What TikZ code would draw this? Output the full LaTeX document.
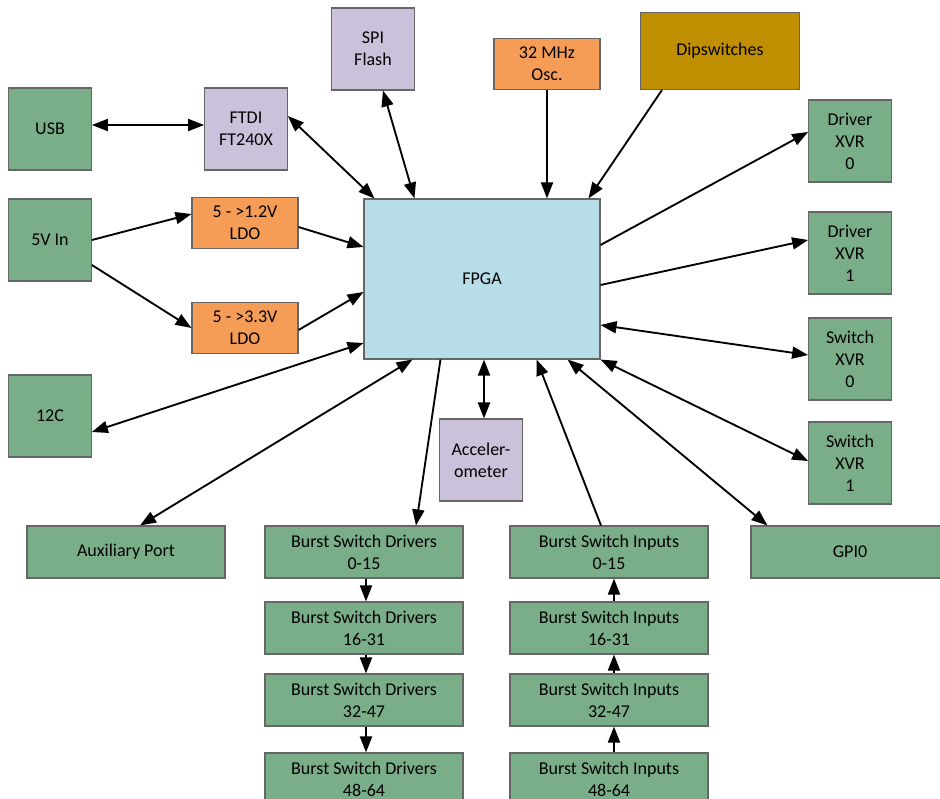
\documentclass[tikz,border=0pt]{standalone}
\usepackage{fontspec}
\setmainfont{Carlito}
\usetikzlibrary{arrows.meta,calc}
\definecolor{blockgreen}{RGB}{122,174,136}
\definecolor{blockpurple}{RGB}{204,193,218}
\definecolor{blockorange}{RGB}{245,156,86}
\definecolor{blockgold}{RGB}{191,143,0}
\definecolor{blockblue}{RGB}{183,222,232}
\begin{document}
\begin{tikzpicture}[x=0.75pt, y=-0.75pt, >={Triangle[length=12pt,width=9pt]},
    link/.style={line width=1.4pt},
    sq/.style={minimum width=62pt, minimum height=61.5pt},
    flat/.style={minimum width=79.5pt, minimum height=38.25pt},
    wide/.style={minimum width=148.5pt, minimum height=39pt}]
\tikzset{every node/.style={draw=black!60, line width=0.8pt, align=center, inner sep=0pt,
                            font=\fontsize{13.5}{16.5}\selectfont}}
%\tikzset{every node/.style={draw, font=\sffamily}}
\clip (0,0) rectangle (940,799);
% left column
\node[sq, fill=blockgreen] (usb) at (50,129) {USB};
\node[sq, fill=blockgreen] (pwr) at (50,240) {5V In};
\node[sq, fill=blockgreen] (i2c) at (50,416) {12C};
\node[sq, fill=blockpurple] (ftdi) at (246,129) {FTDI\\FT240X};
\node[flat, fill=blockorange] (ldoa) at (245,223) {5 - >1.2V\\LDO};
\node[flat, fill=blockorange] (ldob) at (245,328) {5 - >3.3V\\LDO};
% top row
\node[sq, fill=blockpurple] (spi) at (373,49) {SPI\\Flash};
\node[flat, fill=blockorange] (osc) at (547,64) {32 MHz\\Osc.};
\node[fill=blockgold, minimum width=119.25pt, minimum height=57.75pt] (dip) at (720,51) {Dipswitches};
% centre
\node[fill=blockblue, minimum width=177pt, minimum height=120pt] (fpga) at (482,279) {FPGA};
\node[sq, fill=blockpurple] (acc) at (481,460) {Acceler-\\ometer};
% right column
\node[sq, fill=blockgreen] (dxa) at (850,141) {Driver\\XVR\\0};
\node[sq, fill=blockgreen] (dxb) at (850,253) {Driver\\XVR\\1};
\node[sq, fill=blockgreen] (sxa) at (850,359) {Switch\\XVR\\0};
\node[sq, fill=blockgreen] (sxb) at (850,463) {Switch\\XVR\\1};
% bottom row
\node[wide, fill=blockgreen] (aux) at (126,552) {Auxiliary Port};
\node[wide, fill=blockgreen] (gpio) at (850,552) {GPI0};
\foreach \lo/\hi/\yy [count=\i from 0] in {0/15/552,16/31/628,32/47/700,48/64/779}{
    \node[wide, fill=blockgreen] (bsd\i) at (364,\yy) {Burst Switch Drivers\\\lo-\hi};
    \node[wide, fill=blockgreen] (bsi\i) at (609,\yy) {Burst Switch Inputs\\\lo-\hi};
}
% connections
\draw[link,<->] ($(usb.east)+(0,-4)$) -- ($(ftdi.west)+(0,-4)$);
\draw[link,<->] ($(ftdi.east)+(0,-13)$) -- ($(fpga.north west)+(11,0)$);
\draw[link,<->] ($(spi.south)+(10,0)$) -- ($(fpga.north west)+(51,0)$);
\draw[link,->] (osc.south) -- (osc |- fpga.north);
\draw[link,->] ($(dip.south west)+(22,0)$) -- ($(fpga.north east)+(-12,0)$);
\draw[link,->] (pwr.east) -- ($(ldoa.west)+(0,-9)$);
\draw[link,->] ($(pwr.east)+(0,25)$) -- (ldob.west);
\draw[link,->] ($(ldoa.east)+(0,4)$) -- ($(fpga.west)+(0,-32)$);
\draw[link,->] ($(ldob.east)+(0,2)$) -- ($(fpga.west)+(0,13)$);
\draw[link,<->] ($(fpga.west)+(0,64)$) -- ($(i2c.east)+(0,16)$);
\draw[link,->] ($(fpga.east)+(0,-34)$) -- ($(dxa.west)+(0,-9)$);
\draw[link,->] ($(fpga.east)+(0,6)$) -- ($(dxb.west)+(0,-13)$);
\draw[link,<->] ($(fpga.east)+(0,46)$) -- ($(sxa.west)+(0,-4)$);
\draw[link,<->] (fpga.south east) -- ($(sxb.west)+(0,-2)$);
\draw[link,<->] ($(fpga.south east)+(-33,0)$) -- ($(gpio.north west)+(17,0)$);
\draw[link,->] ($(bsi0.north)+(-8,0)$) -- ($(fpga.south east)+(-64,0)$);
\draw[link,<->] ($(acc.north)+(3,0)$) -- ($(acc.north |- fpga.south)+(3,0)$);
\draw[link,->] ($(fpga.south west)+(77,0)$) -- ($(bsd0.north)+(52,0)$);
\draw[link,<->] ($(fpga.south west)+(49,0)$) -- ($(aux.north)+(14,0)$);
\foreach \a/\b in {0/1,1/2,2/3}{
    \draw[link,->] ($(bsd\a.south)+(2,0)$) -- ($(bsd\b.north)+(2,0)$);
    \draw[link,->] ($(bsi\b.north)+(5,0)$) -- ($(bsi\a.south)+(5,0)$);
}
\end{tikzpicture}
\end{document}
